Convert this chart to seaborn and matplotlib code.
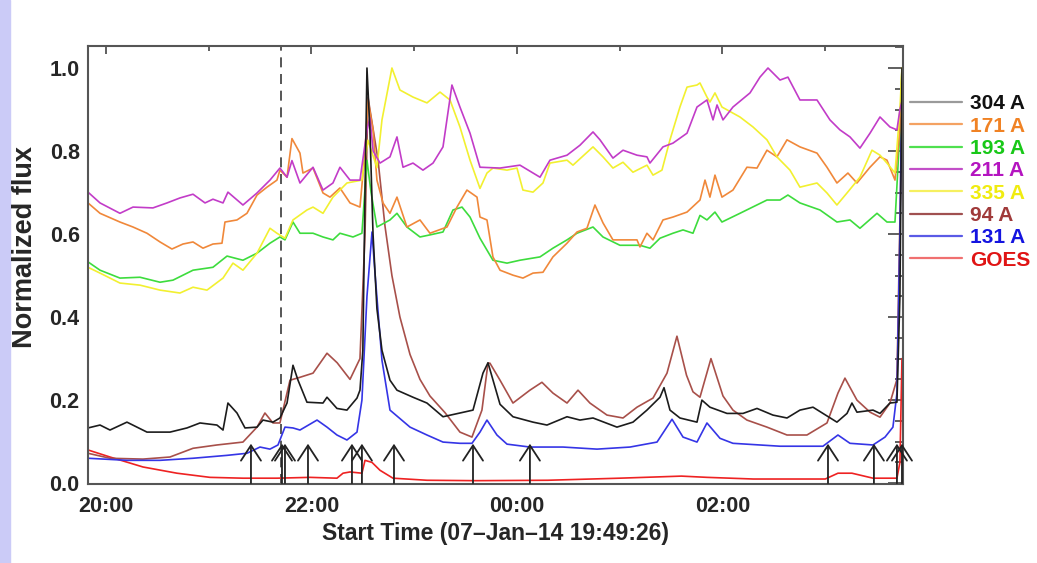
import numpy as np
import pandas as pd
import matplotlib
matplotlib.use("Agg")
import matplotlib.pyplot as plt
from matplotlib.lines import Line2D
from matplotlib.patches import Rectangle
from matplotlib.ticker import MultipleLocator
import seaborn as sns

# time axis: hours since 20:00 on 07-Jan-14 (start 19:49:26)
t_304 = [-0.175, -0.058, 0.039, 0.204, 0.399, 0.623, 0.788, 0.915, 1.080, 1.139, 1.187, 1.275, 1.353,
         1.470, 1.528, 1.625, 1.693, 1.762, 1.820, 1.869, 1.956, 2.112, 2.151, 2.248, 2.345, 2.443,
         2.472, 2.500, 2.521, 2.540, 2.569, 2.599, 2.637, 2.686, 2.764, 2.832, 2.988, 3.124, 3.280,
         3.445, 3.572, 3.669, 3.718, 3.835, 3.961, 4.156, 4.292, 4.487, 4.613, 4.740, 4.973, 5.129,
         5.265, 5.392, 5.431, 5.489, 5.586, 5.752, 5.800, 5.878, 6.044, 6.200, 6.336, 6.491, 6.628,
         6.754, 6.881, 6.978, 7.114, 7.212, 7.260, 7.309, 7.465, 7.533, 7.630, 7.698, 7.727, 7.747]
f_304 = [0.133, 0.140, 0.128, 0.147, 0.123, 0.123, 0.133, 0.145, 0.140, 0.128, 0.193, 0.169, 0.133,
         0.135, 0.152, 0.147, 0.157, 0.193, 0.284, 0.248, 0.195, 0.193, 0.207, 0.180, 0.176, 0.205,
         0.224, 0.320, 0.700, 1.000, 0.850, 0.600, 0.420, 0.320, 0.248, 0.224, 0.207, 0.193, 0.160,
         0.169, 0.176, 0.265, 0.290, 0.190, 0.160, 0.147, 0.140, 0.160, 0.152, 0.157, 0.135, 0.147,
         0.176, 0.207, 0.230, 0.176, 0.157, 0.147, 0.200, 0.183, 0.168, 0.168, 0.180, 0.164, 0.157,
         0.176, 0.183, 0.168, 0.147, 0.168, 0.193, 0.171, 0.176, 0.168, 0.193, 0.195, 0.450, 1.000]

t_171 = [-0.175, -0.058, 0.136, 0.263, 0.399, 0.526, 0.642, 0.749, 0.847, 0.944, 1.041, 1.129, 1.158,
         1.275, 1.372, 1.470, 1.567, 1.664, 1.693, 1.762, 1.810, 1.888, 1.917, 2.015, 2.112, 2.180,
         2.277, 2.375, 2.472, 2.521, 2.550, 2.600, 2.637, 2.696, 2.764, 2.832, 2.929, 3.056, 3.153,
         3.319, 3.416, 3.513, 3.611, 3.640, 3.708, 3.766, 3.835, 3.961, 4.058, 4.156, 4.253, 4.350,
         4.487, 4.584, 4.681, 4.759, 4.837, 4.934, 5.071, 5.168, 5.197, 5.265, 5.324, 5.421, 5.518,
         5.655, 5.781, 5.830, 5.878, 5.927, 5.995, 6.102, 6.238, 6.336, 6.433, 6.530, 6.628, 6.754,
         6.920, 7.017, 7.114, 7.221, 7.309, 7.436, 7.533, 7.601, 7.679, 7.727, 7.747]
f_171 = [0.675, 0.650, 0.629, 0.617, 0.602, 0.581, 0.564, 0.576, 0.581, 0.566, 0.576, 0.578, 0.629,
         0.634, 0.650, 0.694, 0.713, 0.730, 0.754, 0.737, 0.830, 0.795, 0.747, 0.759, 0.699, 0.689,
         0.711, 0.675, 0.665, 0.800, 0.923, 0.850, 0.730, 0.675, 0.650, 0.689, 0.617, 0.634, 0.602,
         0.617, 0.665, 0.706, 0.689, 0.641, 0.634, 0.545, 0.513, 0.501, 0.494, 0.506, 0.508, 0.545,
         0.578, 0.605, 0.614, 0.670, 0.627, 0.586, 0.586, 0.586, 0.569, 0.602, 0.586, 0.634, 0.641,
         0.653, 0.682, 0.730, 0.689, 0.742, 0.689, 0.706, 0.761, 0.759, 0.802, 0.786, 0.827, 0.810,
         0.795, 0.761, 0.723, 0.747, 0.723, 0.761, 0.786, 0.778, 0.730, 0.850, 1.000]

t_193 = [-0.175, -0.058, 0.136, 0.331, 0.526, 0.652, 0.847, 1.041, 1.178, 1.333, 1.470, 1.596, 1.693,
         1.742, 1.820, 1.888, 2.015, 2.112, 2.209, 2.277, 2.404, 2.491, 2.540, 2.580, 2.637, 2.764,
         2.832, 2.929, 3.056, 3.153, 3.280, 3.377, 3.465, 3.543, 3.640, 3.766, 3.903, 4.029, 4.224,
         4.350, 4.487, 4.584, 4.740, 4.837, 5.002, 5.197, 5.294, 5.392, 5.518, 5.616, 5.713, 5.781,
         5.849, 5.927, 5.995, 6.170, 6.433, 6.560, 6.637, 6.754, 6.949, 7.114, 7.241, 7.338, 7.504,
         7.601, 7.679, 7.727, 7.747]
f_193 = [0.533, 0.513, 0.494, 0.496, 0.484, 0.489, 0.513, 0.520, 0.547, 0.537, 0.554, 0.578, 0.593,
         0.586, 0.629, 0.602, 0.602, 0.593, 0.586, 0.602, 0.593, 0.602, 0.778, 0.700, 0.617, 0.634,
         0.650, 0.617, 0.593, 0.598, 0.605, 0.658, 0.665, 0.641, 0.590, 0.537, 0.530, 0.537, 0.545,
         0.566, 0.586, 0.602, 0.617, 0.593, 0.573, 0.573, 0.566, 0.590, 0.602, 0.610, 0.602, 0.645,
         0.634, 0.653, 0.629, 0.650, 0.682, 0.682, 0.694, 0.675, 0.658, 0.629, 0.634, 0.614, 0.650,
         0.629, 0.629, 0.850, 1.000]

t_211 = [-0.175, -0.058, 0.136, 0.263, 0.457, 0.594, 0.720, 0.847, 0.964, 1.041, 1.139, 1.187, 1.333,
         1.470, 1.596, 1.693, 1.762, 1.810, 1.888, 2.015, 2.112, 2.209, 2.277, 2.375, 2.472, 2.540,
         2.569, 2.600, 2.667, 2.764, 2.832, 2.891, 2.988, 3.085, 3.183, 3.280, 3.367, 3.445, 3.543,
         3.640, 3.835, 4.029, 4.224, 4.321, 4.487, 4.613, 4.740, 4.808, 4.934, 5.032, 5.168, 5.265,
         5.294, 5.421, 5.518, 5.655, 5.752, 5.849, 5.908, 5.947, 6.005, 6.102, 6.268, 6.365, 6.443,
         6.560, 6.637, 6.754, 6.920, 7.046, 7.143, 7.241, 7.338, 7.436, 7.533, 7.630, 7.698, 7.727,
         7.747]
f_211 = [0.701, 0.675, 0.650, 0.665, 0.663, 0.675, 0.687, 0.696, 0.675, 0.684, 0.675, 0.701, 0.670,
         0.699, 0.730, 0.759, 0.737, 0.777, 0.723, 0.761, 0.706, 0.723, 0.761, 0.730, 0.730, 0.850,
         0.880, 0.800, 0.771, 0.786, 0.834, 0.761, 0.771, 0.754, 0.771, 0.810, 0.959, 0.906, 0.843,
         0.761, 0.759, 0.766, 0.737, 0.778, 0.790, 0.814, 0.846, 0.827, 0.783, 0.802, 0.790, 0.786,
         0.771, 0.810, 0.819, 0.843, 0.906, 0.923, 0.875, 0.911, 0.875, 0.906, 0.940, 0.978, 1.000,
         0.971, 0.978, 0.923, 0.923, 0.875, 0.851, 0.834, 0.807, 0.843, 0.882, 0.858, 0.851, 0.900,
         0.920]

t_335 = [-0.175, -0.058, 0.136, 0.331, 0.526, 0.720, 0.847, 0.983, 1.139, 1.236, 1.333, 1.470, 1.596,
         1.664, 1.742, 1.820, 1.956, 2.015, 2.112, 2.209, 2.345, 2.491, 2.550, 2.637, 2.686, 2.783,
         2.861, 2.988, 3.124, 3.251, 3.348, 3.445, 3.543, 3.640, 3.708, 3.766, 3.903, 4.000, 4.058,
         4.156, 4.253, 4.321, 4.487, 4.545, 4.740, 4.837, 4.934, 5.032, 5.129, 5.265, 5.324, 5.411,
         5.489, 5.586, 5.655, 5.752, 5.781, 5.849, 5.878, 5.927, 5.995, 6.170, 6.297, 6.433, 6.530,
         6.657, 6.754, 6.920, 7.017, 7.114, 7.212, 7.338, 7.455, 7.533, 7.601, 7.679, 7.727, 7.747]
f_335 = [0.520, 0.506, 0.482, 0.477, 0.465, 0.458, 0.472, 0.465, 0.494, 0.530, 0.513, 0.554, 0.614,
         0.602, 0.590, 0.634, 0.658, 0.665, 0.650, 0.689, 0.723, 0.730, 0.826, 0.760, 0.875, 1.000,
         0.947, 0.930, 0.916, 0.942, 0.923, 0.858, 0.778, 0.710, 0.747, 0.759, 0.754, 0.759, 0.706,
         0.701, 0.723, 0.771, 0.778, 0.766, 0.810, 0.786, 0.759, 0.773, 0.749, 0.766, 0.742, 0.754,
         0.827, 0.906, 0.954, 0.959, 0.964, 0.930, 0.918, 0.940, 0.906, 0.882, 0.858, 0.827, 0.786,
         0.754, 0.713, 0.723, 0.699, 0.670, 0.699, 0.737, 0.802, 0.790, 0.771, 0.747, 0.900, 1.000]

t_94 = [-0.175, 0.039, 0.360, 0.623, 0.847, 1.080, 1.333, 1.470, 1.547, 1.625, 1.693, 1.791, 1.888,
        2.015, 2.151, 2.250, 2.375, 2.472, 2.521, 2.550, 2.569, 2.647, 2.715, 2.783, 2.861, 2.959,
        3.056, 3.153, 3.299, 3.445, 3.562, 3.659, 3.718, 3.737, 3.835, 3.961, 4.126, 4.243, 4.350,
        4.487, 4.594, 4.710, 4.876, 5.032, 5.168, 5.324, 5.460, 5.557, 5.650, 5.713, 5.781, 5.888,
        6.005, 6.102, 6.238, 6.433, 6.628, 6.822, 7.017, 7.124, 7.192, 7.309, 7.436, 7.533, 7.630,
        7.698, 7.747]
f_94 = [0.072, 0.060, 0.058, 0.063, 0.084, 0.092, 0.099, 0.135, 0.169, 0.145, 0.145, 0.248, 0.255,
        0.265, 0.313, 0.290, 0.250, 0.300, 0.600, 0.930, 0.900, 0.780, 0.620, 0.500, 0.400, 0.310,
        0.250, 0.210, 0.170, 0.123, 0.111, 0.176, 0.289, 0.289, 0.248, 0.193, 0.224, 0.243, 0.217,
        0.193, 0.224, 0.193, 0.164, 0.157, 0.183, 0.205, 0.265, 0.354, 0.260, 0.220, 0.207, 0.300,
        0.210, 0.176, 0.152, 0.135, 0.116, 0.116, 0.145, 0.217, 0.253, 0.200, 0.171, 0.159, 0.193,
        0.250, 0.900]

t_131 = [-0.175, 0.204, 0.526, 0.847, 1.178, 1.372, 1.499, 1.596, 1.674, 1.742, 1.820, 1.888, 2.054,
         2.151, 2.248, 2.345, 2.443, 2.491, 2.540, 2.589, 2.620, 2.686, 2.764, 2.959, 3.124, 3.280,
         3.445, 3.562, 3.640, 3.708, 3.805, 3.903, 4.126, 4.448, 4.779, 5.100, 5.363, 5.509, 5.616,
         5.752, 5.849, 5.976, 6.102, 6.560, 6.978, 7.124, 7.241, 7.465, 7.582, 7.659, 7.698, 7.727,
         7.747]
f_131 = [0.060, 0.055, 0.055, 0.060, 0.067, 0.072, 0.087, 0.082, 0.092, 0.135, 0.133, 0.128, 0.152,
         0.135, 0.116, 0.104, 0.123, 0.200, 0.450, 0.605, 0.500, 0.296, 0.176, 0.135, 0.116, 0.099,
         0.096, 0.096, 0.123, 0.152, 0.116, 0.094, 0.087, 0.087, 0.082, 0.087, 0.099, 0.154, 0.111,
         0.099, 0.145, 0.108, 0.096, 0.089, 0.089, 0.116, 0.096, 0.092, 0.111, 0.135, 0.217, 0.600,
         1.000]

t_goes = [-0.175, 0.039, 0.360, 0.691, 1.012, 1.333, 1.664, 1.985, 2.248, 2.307, 2.375, 2.491, 2.521,
          2.589, 2.667, 2.793, 3.124, 3.600, 4.300, 5.000, 5.600, 5.850, 6.300, 7.000, 7.124, 7.260,
          7.465, 7.698, 7.727, 7.747]
f_goes = [0.080, 0.063, 0.039, 0.024, 0.014, 0.012, 0.012, 0.014, 0.012, 0.024, 0.027, 0.024, 0.055,
          0.050, 0.031, 0.012, 0.007, 0.006, 0.007, 0.012, 0.017, 0.014, 0.010, 0.010, 0.024, 0.024,
          0.012, 0.012, 0.050, 0.300]

channels = ["304 A", "171 A", "193 A", "211 A", "335 A", "94 A", "131 A", "GOES"]
line_colors = ["#1c1c1c", "#f0883a", "#3ddc3d", "#c23cc8", "#f2f030", "#a8504a", "#3535e6", "#ee2222"]
legend_line_colors = ["#9a9a9a", "#f4a262", "#4fe04f", "#c24fc8", "#f6f060", "#a05050", "#5a5ae6", "#f07070"]
text_colors = ["#111111", "#f08224", "#18c818", "#b414c0", "#f0ec10", "#a03a3a", "#1414e0", "#e01414"]

# flare markers (arrows) and reference time (dashed line)
arrow_times = [1.411, 1.713, 1.742, 1.966, 2.394, 2.491, 2.803, 3.572, 4.126, 7.027, 7.474, 7.698, 7.747]
dash_time = 1.703

series = {
    "304 A": (t_304, f_304), "171 A": (t_171, f_171), "193 A": (t_193, f_193),
    "211 A": (t_211, f_211), "335 A": (t_335, f_335), "94 A": (t_94, f_94),
    "131 A": (t_131, f_131), "GOES": (t_goes, f_goes),
}
df = pd.concat([pd.DataFrame({"hours": t, "flux": f, "channel": name})
                for name, (t, f) in series.items()], ignore_index=True)

sns.set_style("white")
plt.rcParams["font.family"] = ["Liberation Sans", "DejaVu Sans"]
plt.rcParams["font.weight"] = "bold"

fig = plt.figure(figsize=(10.37, 5.63), dpi=100)
fig.patches.append(Rectangle((0, 0), 10 / 1037, 1, transform=fig.transFigure,
                             color="#cbcbf7", zorder=-5))
ax = fig.add_axes([88 / 1037, 1 - 484 / 563, 815 / 1037, 438 / 563])

palette = dict(zip(channels, line_colors))
draw_order = ["GOES", "94 A", "131 A", "193 A", "171 A", "335 A", "211 A", "304 A"]
sns.lineplot(data=df, x="hours", y="flux", hue="channel", hue_order=draw_order,
             palette=palette, estimator=None, sort=False, lw=1.2, legend=False, ax=ax)

ax.axvline(dash_time, color="#3a3a3a", lw=1.2, dashes=(6, 4), zorder=1)
for t in arrow_times:
    ax.annotate("", xy=(t, 0.095), xytext=(t, 0.0),
                arrowprops=dict(arrowstyle="->,head_length=0.55,head_width=0.36",
                                mutation_scale=20, color="#222222", lw=1.3,
                                shrinkA=0, shrinkB=0))

ax.set_xlim(-0.175, 7.757)
ax.set_ylim(-0.002, 1.053)
ax.set_xticks([0, 2, 4, 6])
ax.set_xticklabels(["20:00", "22:00", "00:00", "02:00"])
ax.xaxis.set_minor_locator(MultipleLocator(1))
ax.set_yticks([0, 0.2, 0.4, 0.6, 0.8, 1.0])
ax.set_yticklabels(["0.0", "0.2", "0.4", "0.6", "0.8", "1.0"])
ax.yaxis.set_minor_locator(MultipleLocator(0.05))

ax.tick_params(which="both", direction="in", top=True, right=True, color="#444444", width=1.2)
ax.tick_params(axis="x", which="major", length=6, pad=9, labelsize=15.5)
ax.tick_params(axis="x", which="minor", length=3.5)
ax.tick_params(axis="y", which="major", length=11, pad=6, labelsize=15.5)
ax.tick_params(axis="y", which="minor", length=6)
for s in ax.spines.values():
    s.set_color("#555555")
    s.set_linewidth(1.5)

ax.set_xlabel("Start Time (07\u2013Jan\u201314 19:49:26)", fontsize=16.5, fontweight="bold", labelpad=3)
ax.set_ylabel("Normalized flux", fontsize=19.5, fontweight="bold")
ax.yaxis.set_label_coords(-0.061, 0.54)

handles = [Line2D([0], [0], color=c, lw=1.6) for c in legend_line_colors]
leg = ax.legend(handles, channels, loc="upper left", bbox_to_anchor=(1.008, 0.89),
                frameon=False, fontsize=15, labelcolor=text_colors, handlelength=2.5,
                handletextpad=0.4, labelspacing=0.16, borderpad=0, borderaxespad=0)
for txt in leg.get_texts():
    txt.set_fontweight("bold")

fig.savefig("out.png", dpi=100, facecolor="white")
